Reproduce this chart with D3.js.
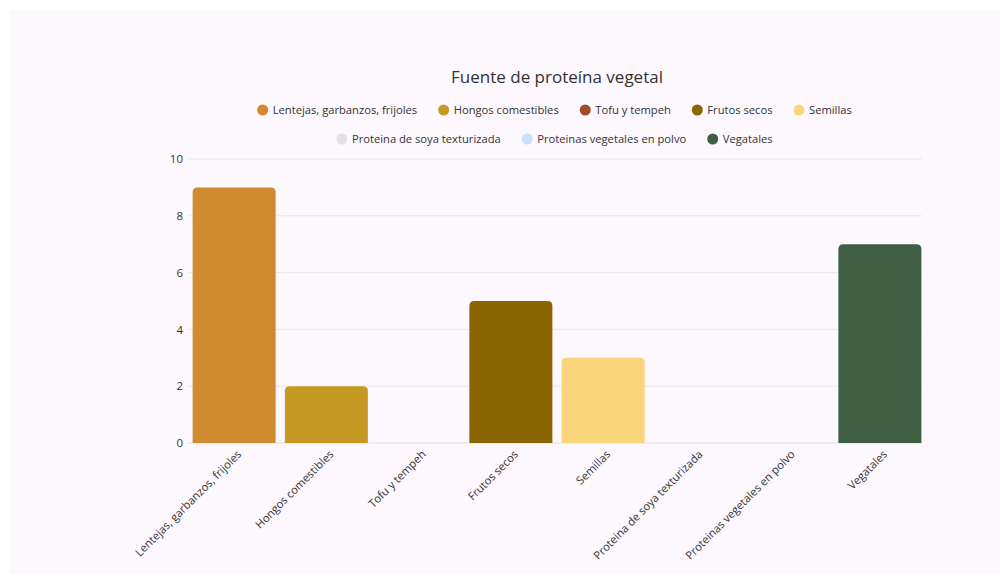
<!DOCTYPE html>
<html>
<head>
<meta charset="utf-8">
<script src="https://cdn.jsdelivr.net/npm/d3@7"></script>
<style>
  html, body { margin: 0; padding: 0; background: #ffffff; }
  svg { display: block; font-family: "Open Sans", sans-serif; }
</style>
</head>
<body>
<svg id="chart" width="1000" height="576"></svg>
<script>
const categories = ["Lentejas, garbanzos, frijoles", "Hongos comestibles", "Tofu y tempeh", "Frutos secos", "Semillas", "Proteina de soya texturizada", "Proteinas vegetales en polvo", "Vegatales"];
const values = [9, 2, 0, 5, 3, 0, 0, 7];
const colors = ["#D08A2F", "#C49A22", "#A24A2A", "#8A6500", "#FBD57B", "#E2E2E2", "#C9E1FA", "#405E44"];
const yTicks = [0, 2, 4, 6, 8, 10];
const title = "Fuente de proteína vegetal";
const legendRows = [[0, 1, 2, 3, 4], [5, 6, 7]];

const svg = d3.select("#chart");
svg.append("rect").attr("x", 10).attr("y", 10).attr("width", 990).attr("height", 564).attr("fill", "#fdf8fd");

const m = { left: 188, right: 926, gridRight: 922, top: 159, bottom: 443 };
const x = d3.scaleBand().domain(categories).range([m.left, m.right]).paddingInner(0.1).paddingOuter(0.05);
const y = d3.scaleLinear().domain([0, 10]).range([m.bottom, m.top]);

// title
svg.append("text").attr("x", 557).attr("y", 83).attr("text-anchor", "middle")
  .attr("font-size", 17).attr("fill", "#333").text(title);

// legend
const legendY = [110, 139];
legendRows.forEach((row, ri) => {
  const g = svg.append("g");
  let cx = 0;
  row.forEach(i => {
    const item = g.append("g").attr("transform", `translate(${cx},0)`);
    item.append("circle").attr("cx", 5.5).attr("cy", 0).attr("r", 5.5).attr("fill", colors[i]);
    const t = item.append("text").attr("x", 15.5).attr("y", 4).attr("font-size", 11.2).attr("fill", "#333").text(categories[i]);
    const w = t.node().getComputedTextLength();
    cx += 15.5 + w + 21;
  });
  const total = cx - 21;
  g.attr("transform", `translate(${554.5 - total / 2},${legendY[ri]})`);
});

// grid
const grid = svg.append("g");
yTicks.forEach(t => {
  grid.append("line").attr("x1", m.left).attr("x2", m.gridRight).attr("y1", y(t)).attr("y2", y(t))
    .attr("stroke", t === 0 ? "#e0dce0" : "#ece6ec").attr("stroke-width", 1);
});

// y axis
const yAxis = svg.append("g").attr("transform", `translate(${m.left},0)`)
  .call(d3.axisLeft(y).tickValues(yTicks).tickSize(0).tickPadding(5));
yAxis.select(".domain").remove();
yAxis.selectAll("text").attr("font-size", 11.5).attr("fill", "#333").attr("font-family", "Open Sans, sans-serif");

// bars
const r = 5;
svg.append("g").selectAll("path").data(categories).join("path")
  .attr("d", (c, i) => {
    const x0 = x(c), w = x.bandwidth(), yt = y(values[i]), yb = y(0);
    if (values[i] === 0) return "";
    return `M${x0},${yb}V${yt + r}Q${x0},${yt} ${x0 + r},${yt}H${x0 + w - r}Q${x0 + w},${yt} ${x0 + w},${yt + r}V${yb}Z`;
  })
  .attr("fill", (c, i) => colors[i]);

// x axis
const xAxis = svg.append("g").attr("transform", `translate(0,${m.bottom})`)
  .call(d3.axisBottom(x).tickSize(0).tickPadding(0));
xAxis.select(".domain").remove();
xAxis.selectAll("text")
  .attr("font-size", 11.2).attr("fill", "#333").attr("font-family", "Open Sans, sans-serif")
  .attr("text-anchor", "end").attr("dy", null).attr("y", 0).attr("x", 0)
  .attr("transform", "translate(8,12) rotate(-45)");
</script>
</body>
</html>
